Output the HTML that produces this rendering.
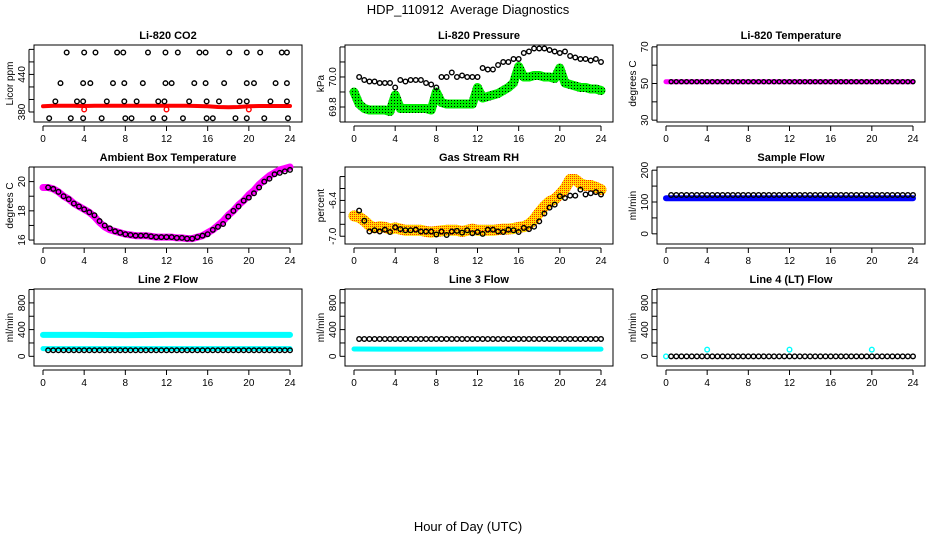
<!DOCTYPE html>
<html><head><meta charset="utf-8"><style>
html,body{margin:0;padding:0;background:#fff;}
svg{display:block;font-family:"Liberation Sans",sans-serif;}
</style></head><body>
<svg id="chart" width="936" height="540" viewBox="0 0 936 540" xmlns="http://www.w3.org/2000/svg">
<defs>
<pattern id="greenDots" width="3" height="3" patternUnits="userSpaceOnUse"><rect width="3" height="3" fill="#00ee00"/><rect x="1" y="1" width="1" height="1" fill="#000"/></pattern>
<pattern id="yellowDots" width="2" height="2" patternUnits="userSpaceOnUse"><rect width="2" height="2" fill="#ffdd00"/><rect width="1" height="1" fill="#ff3000"/></pattern>
</defs>
<text x="468" y="14" text-anchor="middle" font-size="13" xml:space="preserve">HDP_110912  Average Diagnostics</text>
<text x="468" y="531" text-anchor="middle" font-size="13">Hour of Day (UTC)</text>
</svg>
<script>
// ---- data ----
const xTicks = [0,4,8,12,16,20,24];
const halfHours = [0.5,1,1.5,2,2.5,3,3.5,4,4.5,5,5.5,6,6.5,7,7.5,8,8.5,9,9.5,10,10.5,11,11.5,12,12.5,13,13.5,14,14.5,15,15.5,16,16.5,17,17.5,18,18.5,19,19.5,20,20.5,21,21.5,22,22.5,23,23.5,24];
const bandHours = [0,0.5,1,1.5,2,2.5,3,3.5,4,4.5,5,5.5,6,6.5,7,7.5,8,8.5,9,9.5,10,10.5,11,11.5,12,12.5,13,13.5,14,14.5,15,15.5,16,16.5,17,17.5,18,18.5,19,19.5,20,20.5,21,21.5,22,22.5,23,23.5,24];
const knotHours = [0,4,8,12,16,20,24];

const co2RedHours = [0,1,2,3,4,5,6,7,8,9,10,11,12,13,14,15,16,17,18,19,20,21,22,23,24];
const co2RedValues = [389,390,390,390,389.5,390,390,390,390,390,390,390,390,390,390,389.5,389,388,387.5,388,389,389.5,389.5,389.5,389.5];
const co2Hours = [2.3,4.0,5.1,7.2,7.8,10.2,11.9,13.1,15.2,15.8,18.1,19.8,21.1,23.2,23.7,
 1.7,3.9,4.6,6.8,7.9,9.7,11.9,12.5,14.7,15.8,17.6,19.8,20.5,22.6,23.7,
 1.2,3.3,3.9,6.2,7.9,9.1,11.2,11.8,14.2,15.9,17.1,19.1,19.8,22.1,23.7,
 0.6,2.7,3.9,5.7,8.0,8.6,10.7,11.8,13.6,15.9,16.5,18.7,19.8,21.5,23.8];
const co2Values = [475,475,475,475,475,475,475,475,475,475,475,475,475,475,475,
 426,426,426,426,426,426,426,426,426,426,426,426,426,426,426,
 397,397,397,397,397,397,397,397,397,397,397,397,397,397,397,
 370,370,370,370,370,370,370,370,370,370,370,370,370,370,370];
const co2RedPtHours = [4,12,20];
const co2RedPtValues = [384,384,384];

const pressGreen = [69.90,69.82,69.79,69.78,69.78,69.78,69.78,69.77,69.88,69.79,69.79,69.79,69.79,69.79,69.79,69.78,69.90,69.83,69.82,69.82,69.82,69.82,69.82,69.82,69.93,69.86,69.87,69.88,69.89,69.91,69.93,69.96,70.07,70.0,70.0,70.01,70.01,70.0,70.0,69.99,70.06,69.96,69.95,69.94,69.93,69.93,69.92,69.92,69.91];
const pressBlack = [70.0,69.98,69.97,69.97,69.96,69.96,69.96,69.93,69.98,69.97,69.98,69.98,69.98,69.96,69.95,69.93,70.0,70.0,70.03,70.0,70.01,70.0,70.0,70.0,70.06,70.05,70.05,70.08,70.1,70.1,70.12,70.12,70.16,70.17,70.19,70.19,70.19,70.18,70.17,70.16,70.17,70.14,70.13,70.12,70.12,70.11,70.12,70.1];

const tempMagenta = [51,51,51,51,51,51,51];
const tempBlack = [51,51,51,51,51,51,51,51,51,51,51,51,51,51,51,51,51,51,51,51,51,51,51,51,51,51,51,51,51,51,51,51,51,51,51,51,51,51,51,51,51,51,51,51,51,51,51,51];

const ambMagenta = [19.6,19.6,19.5,19.3,19.0,18.8,18.5,18.3,18.1,17.9,17.6,17.2,16.9,16.7,16.6,16.5,16.4,16.35,16.3,16.3,16.3,16.25,16.2,16.2,16.2,16.2,16.15,16.15,16.1,16.1,16.2,16.3,16.5,16.7,17.0,17.3,17.7,18.0,18.4,18.7,19.1,19.4,19.8,20.1,20.4,20.6,20.8,20.9,21.0];
const ambBlack = [19.6,19.5,19.3,19.0,18.8,18.5,18.3,18.1,17.9,17.7,17.3,17.0,16.8,16.6,16.5,16.4,16.35,16.3,16.3,16.3,16.25,16.2,16.2,16.2,16.2,16.15,16.15,16.1,16.1,16.2,16.3,16.4,16.7,16.9,17.1,17.6,18.0,18.3,18.7,18.9,19.2,19.6,20.0,20.2,20.5,20.6,20.7,20.8];

const rhBand = [-6.66,-6.68,-6.74,-6.82,-6.86,-6.84,-6.85,-6.88,-6.86,-6.88,-6.9,-6.9,-6.9,-6.9,-6.92,-6.93,-6.92,-6.91,-6.9,-6.9,-6.9,-6.92,-6.9,-6.88,-6.9,-6.9,-6.9,-6.9,-6.89,-6.88,-6.88,-6.87,-6.85,-6.84,-6.8,-6.72,-6.6,-6.5,-6.42,-6.38,-6.3,-6.2,-6.05,-6.05,-6.12,-6.15,-6.15,-6.18,-6.22];
const rhBlack = [-6.57,-6.74,-6.92,-6.9,-6.92,-6.89,-6.93,-6.85,-6.88,-6.9,-6.9,-6.89,-6.92,-6.92,-6.92,-6.97,-6.92,-6.98,-6.92,-6.91,-6.94,-6.9,-6.95,-6.93,-6.96,-6.89,-6.89,-6.92,-6.93,-6.89,-6.9,-6.93,-6.86,-6.88,-6.84,-6.75,-6.62,-6.52,-6.47,-6.33,-6.36,-6.32,-6.32,-6.22,-6.3,-6.28,-6.26,-6.3];

const sampleBlue = [112,112,112,112,112,112,112];
const sampleBlack = [122,122,122,122,122,122,122,122,122,122,122,122,122,122,122,122,122,122,122,122,122,122,122,122,122,122,122,122,122,122,122,122,122,122,122,122,122,122,122,122,122,122,122,122,122,122,122,122];

const line2CyanHigh = [320,320,318,320,320,320,320];
const line2CyanLow = [115,115,115,115,115,115,115];
const line2Black = [90,90,90,90,90,90,90,90,90,90,90,90,90,90,90,90,90,90,90,90,90,90,90,90,90,90,90,90,90,90,90,90,90,90,90,90,90,90,90,90,90,90,90,90,90,90,90,90];

const line3Cyan = [110,108,108,110,110,108,108];
const line3Black = [260,260,260,260,260,260,260,260,260,260,260,260,260,260,260,260,260,260,260,260,260,260,260,260,260,260,260,260,260,260,260,260,260,260,260,260,260,260,260,260,260,260,260,260,260,260,260,260];

const line4CyanHours = [0,4,12,20];
const line4CyanValues = [0,100,100,100];
const line4Black = [0,0,0,0,0,0,0,0,0,0,0,0,0,0,0,0,0,0,0,0,0,0,0,0,0,0,0,0,0,0,0,0,0,0,0,0,0,0,0,0,0,0,0,0,0,0,0,0];

// ---- drawing ----
const NS = "http://www.w3.org/2000/svg";
const svg = document.getElementById('chart');
const colX0 = [43,354,666];
const rowTop = [45,167,289];
const BOXH = 77;

function mk(tag, attrs, parent){
  const e = document.createElementNS(NS, tag);
  for (const k in attrs) e.setAttribute(k, attrs[k]);
  (parent||svg).appendChild(e);
  return e;
}

function makePanel(col,row,title,ylab,ylim,yticks,ylabels,name){
  const x0 = colX0[col], top = rowTop[row], bottom = top+BOXH;
  const left = x0-9, right = x0+259;
  const g = mk('g',{});
  
  
  const xs = t => x0 + t*247/24;
  const ys = v => bottom - (v-ylim[0])/(ylim[1]-ylim[0])*BOXH;
  const box = mk('rect',{x:left,y:top,width:right-left,height:BOXH,fill:'none',stroke:'#000','stroke-width':1},g);
  
  
  const tt = mk('text',{x:(left+right)/2,y:top-6,'text-anchor':'middle','font-size':11,'font-weight':'bold'},g);
  tt.textContent = title;
  
  
  xTicks.forEach(t=>{
    const l = mk('line',{x1:xs(t),x2:xs(t),y1:bottom+4,y2:bottom+9,stroke:'#000'},g);
    
    
    const tx = mk('text',{x:xs(t),y:bottom+20,'text-anchor':'middle','font-size':10},g);
    tx.textContent = t;
    
    
  });
  mk('line',{x1:xs(0),x2:xs(24),y1:bottom+4,y2:bottom+4,stroke:'#000'},g);
  yticks.forEach(v=>{
    const l = mk('line',{x1:left-5,x2:left,y1:ys(v),y2:ys(v),stroke:'#000'},g);
    
    
  });
  mk('line',{x1:left-5,x2:left-5,y1:ys(yticks[0]),y2:ys(yticks[yticks.length-1]),stroke:'#000'},g);
  ylabels.forEach(lbl=>{
    const y = ys(parseFloat(lbl));
    const tx = mk('text',{x:left-9,y:y,'text-anchor':'middle','font-size':10,transform:`rotate(-90 ${left-9} ${y})`},g);
    tx.textContent = lbl;
    
    
  });
  const yl = mk('text',{x:left-21,y:(top+bottom)/2,'text-anchor':'middle','font-size':10,transform:`rotate(-90 ${left-21} ${(top+bottom)/2})`},g);
  yl.textContent = ylab;
  
  
  return {g,xs,ys};
}

function band(p,hours,vals,stroke,width,name){
  const pts = hours.map((h,i)=>p.xs(h).toFixed(1)+','+p.ys(vals[i]).toFixed(1)).join(' ');
  const pl = mk('polyline',{points:pts,fill:'none',stroke:stroke,'stroke-width':width,'stroke-linejoin':'round','stroke-linecap':'round'},p.g);
  
  
}
function points(p,hours,vals,color,name,r){
  hours.forEach((h,i)=>{
    const c = mk('circle',{cx:p.xs(h),cy:p.ys(vals[i]),r:r||2.3,fill:'none',stroke:color,'stroke-width':1.4},p.g);
    
    
  });
}

// Panel 1: CO2
let p = makePanel(0,0,'Li-820 CO2','Licor ppm',[364,487],[380,400,420,440,460,480],['380','440'],'co2');
band(p,co2RedHours,co2RedValues,'#ff0000',4,'co2-red-series');
points(p,co2RedPtHours,co2RedPtValues,'#ff0000','co2-red-point');
points(p,co2Hours,co2Values,'#000','co2-point');

// Panel 2: Pressure
p = makePanel(1,0,'Li-820 Pressure','kPa',[69.70,70.213],[69.7,69.8,69.9,70.0,70.1,70.2],['69.8','70.0'],'pressure');
band(p,bandHours,pressGreen,'url(#greenDots)',9,'pressure-green-series');
points(p,halfHours,pressBlack,'#000','pressure-point');

// Panel 3: Temperature
p = makePanel(2,0,'Li-820 Temperature','degrees C',[29,71],[30,40,50,60,70],['30','50','70'],'li820-temp');
band(p,knotHours,tempMagenta,'#ff00ff',5,'temp-magenta-series');
points(p,halfHours,tempBlack,'#000','temp-point',2);

// Panel 4: Ambient
p = makePanel(0,1,'Ambient Box Temperature','degrees C',[15.73,21.0],[16,17,18,19,20,21],['16','18','20'],'ambient');
band(p,bandHours,ambMagenta,'#ff00ff',7,'ambient-magenta-series');
points(p,halfHours,ambBlack,'#000','ambient-point');

// Panel 5: RH
p = makePanel(1,1,'Gas Stream RH','percent',[-7.13,-5.84],[-7.0,-6.8,-6.6,-6.4,-6.2,-6.0],['-7.0','-6.4'],'rh');
band(p,bandHours,rhBand,'url(#yellowDots)',11,'rh-band-series');
points(p,halfHours,rhBlack,'#000','rh-point');

// Panel 6: Sample flow
p = makePanel(2,1,'Sample Flow','ml/min',[-32,210],[0,50,100,150,200],['0','100','200'],'sample-flow');
band(p,knotHours,sampleBlue,'#0000ff',6,'sample-blue-series');
points(p,halfHours,sampleBlack,'#000','sample-point');

// Row 3 flows
const flowTicks = [0,200,400,600,800,1000];
p = makePanel(0,2,'Line 2 Flow','ml/min',[-145,1008],flowTicks,['0','400','800'],'line2');
band(p,knotHours,line2CyanHigh,'#00ffff',6,'line2-cyan-high');
band(p,knotHours,line2CyanLow,'#00ffff',5,'line2-cyan-low');
points(p,halfHours,line2Black,'#000','line2-point');

p = makePanel(1,2,'Line 3 Flow','ml/min',[-145,1008],flowTicks,['0','400','800'],'line3');
band(p,knotHours,line3Cyan,'#00ffff',5,'line3-cyan-series');
points(p,halfHours,line3Black,'#000','line3-point');

p = makePanel(2,2,'Line 4 (LT) Flow','ml/min',[-145,1008],flowTicks,['0','400','800'],'line4');
points(p,line4CyanHours,line4CyanValues,'#00ffff','line4-cyan-point');
points(p,halfHours,line4Black,'#000','line4-point');
</script>
</body></html>
